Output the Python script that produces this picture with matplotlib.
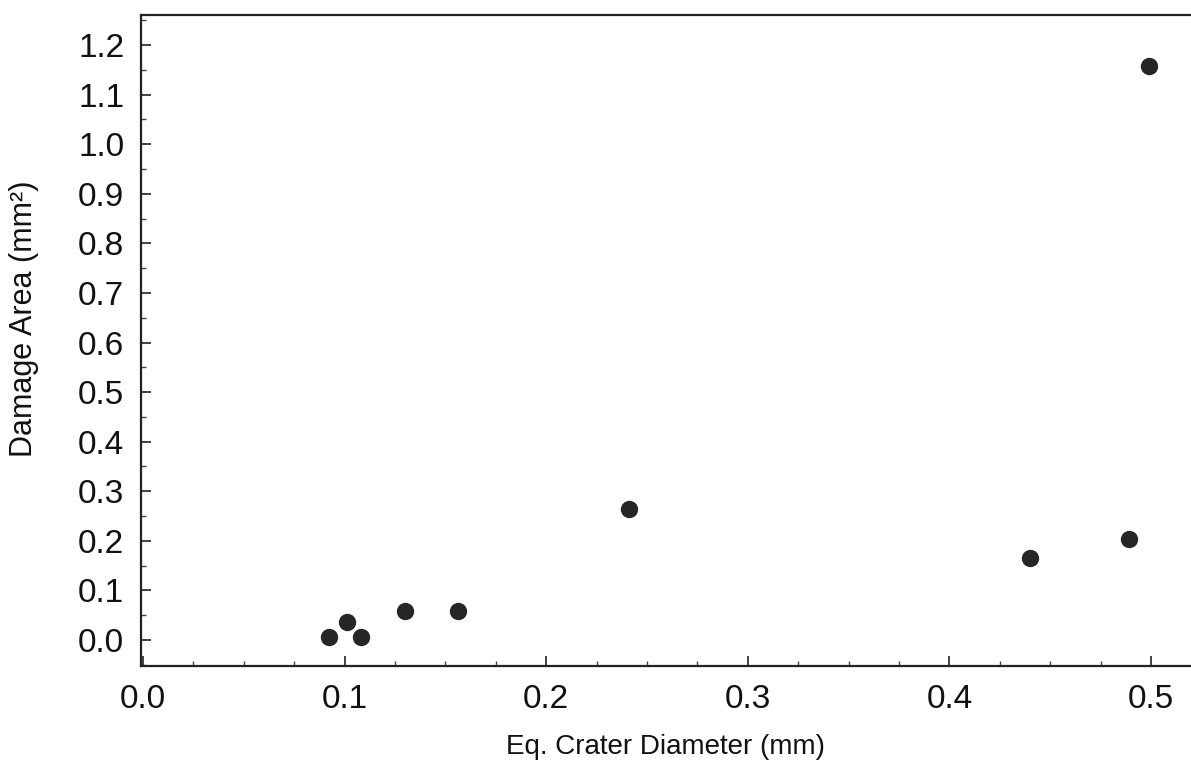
import matplotlib
matplotlib.use("Agg")
import matplotlib.pyplot as plt
from matplotlib.ticker import MultipleLocator

plt.rcParams['font.family'] = ['Liberation Sans', 'DejaVu Sans']

crater_diameter = [0.092, 0.101, 0.108, 0.130, 0.156, 0.241, 0.440, 0.489, 0.499]
damage_area = [0.006, 0.036, 0.006, 0.059, 0.058, 0.264, 0.165, 0.204, 1.158]
x_ticks = [0.0, 0.1, 0.2, 0.3, 0.4, 0.5]
y_ticks = [0.0, 0.1, 0.2, 0.3, 0.4, 0.5, 0.6, 0.7, 0.8, 0.9, 1.0, 1.1, 1.2]

fig = plt.figure(figsize=(11.91, 7.65), dpi=100)
ax = fig.add_axes([141/1191, 1 - 666/765, 1 - 141/1191, (666 - 15)/765])

ax.scatter(crater_diameter, damage_area, s=12.5**2, color='#262626', zorder=3, linewidths=0)

ax.set_xlim(-0.001, 0.5198)
ax.set_ylim(-0.0524, 1.2605)
ax.set_xticks(x_ticks)
ax.set_xticklabels([f"{v:.1f}" for v in x_ticks])
ax.set_yticks(y_ticks)
ax.set_yticklabels([f"{v:.1f}" for v in y_ticks])
ax.xaxis.set_minor_locator(MultipleLocator(0.025))
ax.yaxis.set_minor_locator(MultipleLocator(0.05))

ax.tick_params(which='major', direction='in', length=7, width=1.2, labelsize=24, pad=13, color='#222222', labelcolor='#111111')
ax.tick_params(which='minor', direction='in', length=3.5, width=1.0, color='#444444')
ax.tick_params(axis='y', which='major', pad=12)

for side in ['left', 'bottom', 'top']:
    ax.spines[side].set_linewidth(1.6)
    ax.spines[side].set_color('#222222')
ax.spines['right'].set_visible(False)
ax.tick_params(top=False, right=False, which='both')

ax.set_xlabel("Eq. Crater Diameter (mm)", fontsize=20, labelpad=14, color='#111111')
ax.set_ylabel("Damage Area (mm²)", fontsize=22, color='#111111')
ax.yaxis.set_label_coords(-0.097, 0.533)

fig.savefig("out.png", dpi=100)
